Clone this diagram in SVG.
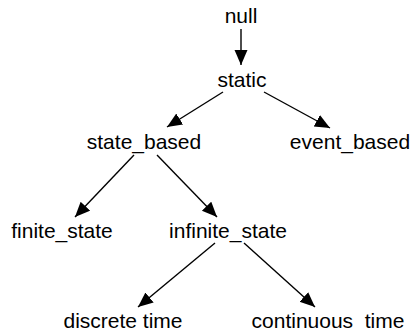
<svg xmlns="http://www.w3.org/2000/svg" width="411" height="331" viewBox="0 0 411 331">
  <defs>
    <style>
      .lbl { font-family: "Liberation Sans", Arial, Helvetica, sans-serif; font-size: 21px; fill: #000; text-anchor: middle; }
      .edge { stroke: #000; stroke-width: 1.4; fill: none; marker-end: url(#arrow); }
    </style>
    <marker id="arrow" markerUnits="userSpaceOnUse" markerWidth="16" markerHeight="14" refX="15" refY="6.5" orient="auto">
      <path d="M0,0 L15,6.5 L0,13 z" fill="#000"/>
    </marker>
  </defs>
  <rect width="411" height="331" fill="#fff"/>

  <g id="connectors">
    <line class="edge" x1="241" y1="29" x2="241" y2="65"/>
    <line class="edge" x1="223" y1="92" x2="167" y2="127"/>
    <line class="edge" x1="264" y1="92" x2="330" y2="128"/>
    <line class="edge" x1="134" y1="155" x2="75" y2="217"/>
    <line class="edge" x1="157" y1="155" x2="217" y2="217"/>
    <line class="edge" x1="215" y1="243" x2="138" y2="307"/>
    <line class="edge" x1="244" y1="243" x2="315" y2="307"/>
  </g>

  <g id="null"><text class="lbl" x="241" y="23">null</text></g>
  <g id="static"><text class="lbl" x="242" y="87">static</text></g>
  <g id="state_based"><text class="lbl" x="144" y="149">state_based</text></g>
  <g id="event_based"><text class="lbl" x="350" y="149">event_based</text></g>
  <g id="finite_state"><text class="lbl" x="62" y="238">finite_state</text></g>
  <g id="infinite_state"><text class="lbl" x="228" y="238">infinite_state</text></g>
  <g id="discrete_time"><text class="lbl" x="123" y="328">discrete time</text></g>
  <g id="continuous_time"><text class="lbl" x="328" y="328">continuous_time</text></g>
</svg>
